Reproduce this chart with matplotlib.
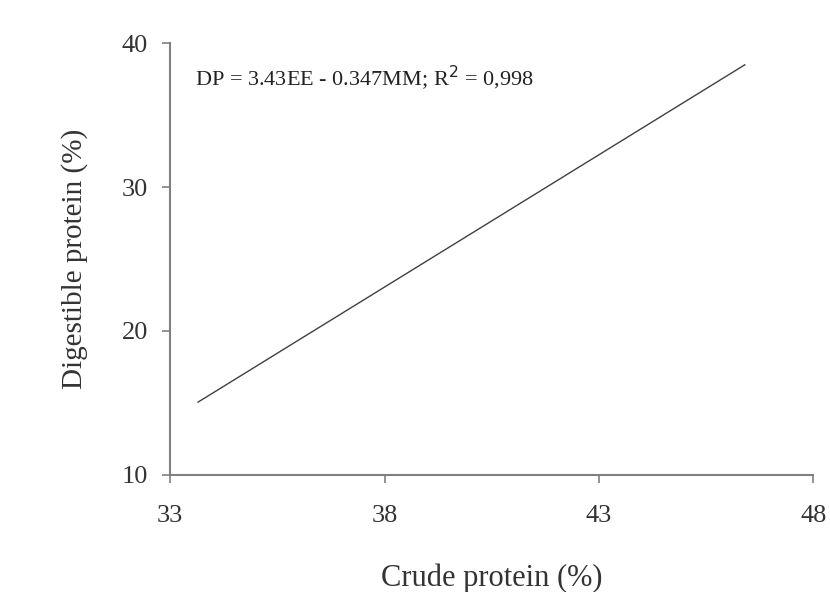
import matplotlib.pyplot as plt

# regression line endpoints
crude_protein = [33.65, 46.4]
digestible_protein = [15.05, 38.5]

x_ticks = [33, 38, 43, 48]
y_ticks = [10, 20, 30, 40]

plt.rcParams['font.family'] = ['Liberation Serif', 'DejaVu Serif']

fig = plt.figure(figsize=(8.3, 5.92), dpi=100)
ax = fig.add_axes([0.205, 0.198, 0.775, 0.729])

ax.plot(crude_protein, digestible_protein, color='#404040', linewidth=1.0)

ax.set_xlim(33, 48)
ax.set_ylim(10, 40)
ax.set_xticks(x_ticks)
ax.set_yticks(y_ticks)

for side in ['top', 'right']:
    ax.spines[side].set_visible(False)
for side in ['left', 'bottom']:
    ax.spines[side].set_color('#808080')
    ax.spines[side].set_linewidth(1.5)

ax.tick_params(axis='both', direction='out', length=6, width=1.2,
               color='#808080', labelsize=19, labelcolor='#333333')
ax.tick_params(axis='x', pad=16)
ax.tick_params(axis='y', pad=10)

ax.set_xlabel("Crude protein (%)", fontsize=22, color='#333333', labelpad=26)
ax.set_ylabel("Digestible protein (%)", fontsize=21, color='#333333', labelpad=24)

ax.text(33.58, 37.6, r"DP = 3.43EE - 0.347MM; R$^2$ = 0,998",
        fontsize=16, color='#222222', va='center', ha='left')

fig.savefig("out.png", dpi=100)
